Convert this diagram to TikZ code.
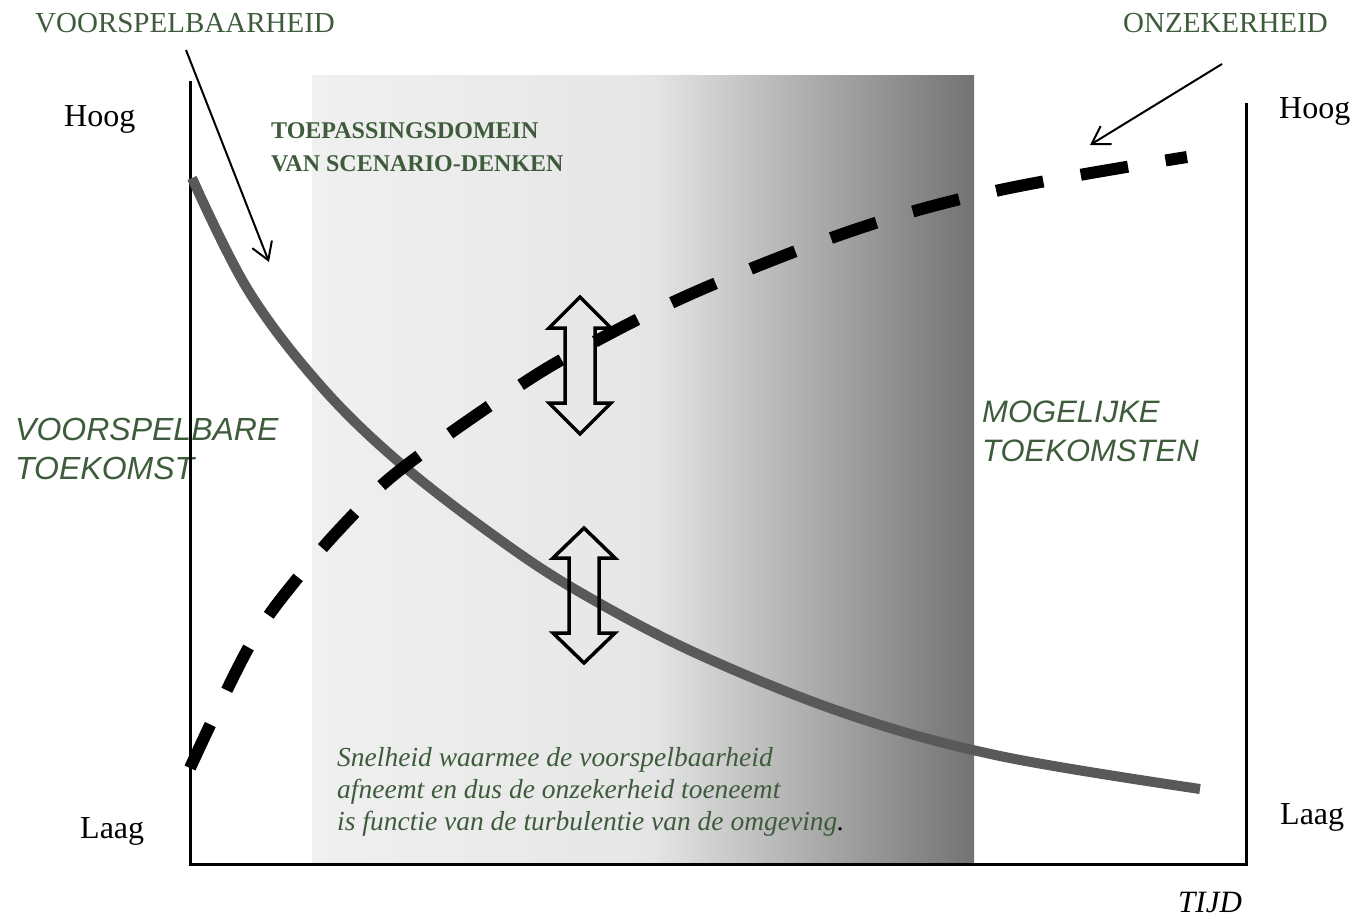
\documentclass[tikz,border=0pt]{standalone}
\usepackage{fontspec}
\setmainfont{Liberation Serif}
\setsansfont{Liberation Sans}
\usetikzlibrary{arrows.meta}
\definecolor{txtgreen}{RGB}{62,92,60}
\definecolor{curvegray}{RGB}{89,89,89}
\definecolor{shA}{RGB}{240,240,240}
\definecolor{shB}{RGB}{230,230,230}
\definecolor{shC}{RGB}{115,115,115}
\begin{document}
\begin{tikzpicture}[x=1pt,y=-1pt,
  lbl/.style={inner sep=0pt, anchor=base west},
  axislbl/.style={lbl, font=\fontsize{32}{38}\selectfont, text=black},
  toplbl/.style={lbl, font=\fontsize{29}{34}\selectfont, text=txtgreen},
  titlelbl/.style={lbl, font=\fontsize{24}{30}\bfseries\selectfont, text=txtgreen},
  sidelbl/.style={lbl, text=txtgreen},
  bodylbl/.style={lbl, font=\fontsize{27.5}{32}\itshape\selectfont, text=txtgreen},
  pointer/.style={line width=2pt, -{Straight Barb[length=17pt,width=21pt]}},
  dblarrow/.style={line width=3.5pt, line join=miter, draw=black},
  axisline/.style={line width=3pt, line cap=rect}]
\path[use as bounding box] (0,0) rectangle (1354,917);

% shaded application domain
\shade[left color=shA, right color=shB] (312,76) rectangle (651,864);
\shade[left color=shB, right color=shC] (650,76) rectangle (974,864);

% side labels (under the axes)
\node[sidelbl, font=\fontsize{32}{38}\sffamily\itshape\selectfont] (vb1) at (15,440) {VOORSPELBARE};
\node[sidelbl, font=\fontsize{32}{38}\sffamily\itshape\selectfont] (vb2) at (15,479) {TOEKOMST};
\node[sidelbl, font=\fontsize{31}{38}\sffamily\itshape\selectfont] (mg1) at (982,422) {MOGELIJKE};
\node[sidelbl, font=\fontsize{31}{38}\sffamily\itshape\selectfont] (mg2) at (982,461) {TOEKOMSTEN};

% axes
\draw[axisline] (190,83) -- (190,864) -- (1246,864) -- (1246,105);

% predictability curve
\draw[curvegray, line width=10pt] plot[smooth, tension=0.6] coordinates {
  (192,178) (248,290) (320,385) (400,463) (500,540) (583,594) (700,655)
  (850,715) (1000,756) (1200,789)};

% uncertainty curve
\draw[black, line width=12pt, dash pattern=on 48pt off 38pt] plot[smooth, tension=0.6] coordinates {
  (190,768) (250,645) (300,575) (350,518) (400,470) (510,392) (583,348)
  (700,290) (860,228) (1000,190) (1187,157)};

% double arrows
\draw[dblarrow] (580,297) -- (611,328) -- (595,328) -- (595,403) -- (611,403)
  -- (580,434) -- (549,403) -- (565,403) -- (565,328) -- (549,328) -- cycle;
\draw[dblarrow] (584,528) -- (615,558) -- (599,558) -- (599,633) -- (615,633)
  -- (584,663) -- (553,633) -- (569,633) -- (569,558) -- (553,558) -- cycle;

% top labels and pointers
\node[toplbl] (vh) at (35,33) {VOORSPELBAARHEID};
\node[toplbl] (oz) at (1123,33) {ONZEKERHEID};
\coordinate (vhs) at (186,50);
\coordinate (vht) at (269,262);
\coordinate (ozs) at (1222,64);
\coordinate (ozt) at (1090,145);
\draw[pointer] (vhs) -- (vht);
\draw[pointer] (ozs) -- (ozt);

% axis labels
\node[axislbl] (hoogL) at (64,127) {Hoog};
\node[axislbl] (hoogR) at (1279,119) {Hoog};
\node[axislbl] (laagL) at (80,838) {Laag};
\node[axislbl] (laagR) at (1280,824) {Laag};
\node[lbl, font=\fontsize{31}{36}\itshape\selectfont] (tijd) at (1178,912) {TIJD};

% title
\node[titlelbl] (t1) at (271,139) {TOEPASSINGSDOMEIN};
\node[titlelbl] (t2) at (271,172) {VAN SCENARIO-DENKEN};

% body text
\node[bodylbl] (b1) at (337,766) {Snelheid waarmee de voorspelbaarheid};
\node[bodylbl] (b2) at (337,798) {afneemt en dus de onzekerheid toeneemt};
\node[bodylbl] (b3) at (337,830) {is functie van de turbulentie van de omgeving{\color{black}.}};
\end{tikzpicture}
\end{document}
